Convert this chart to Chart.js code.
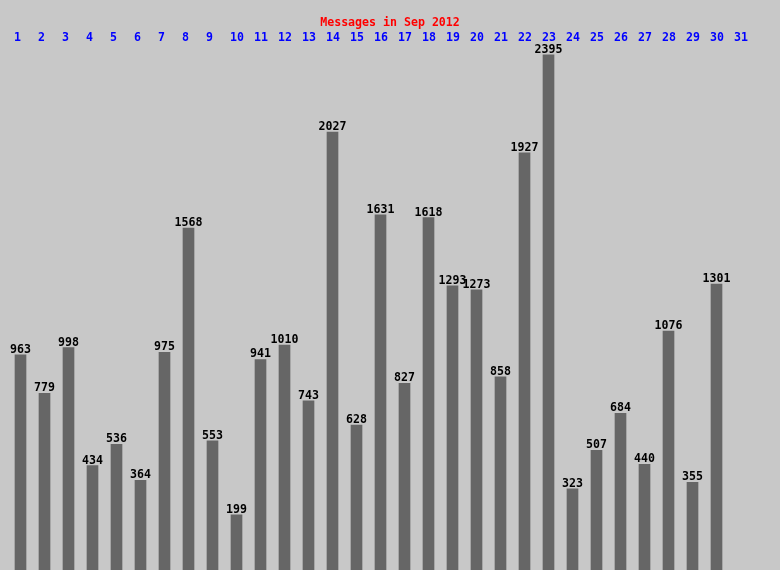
<!DOCTYPE html>
<html>
<head>
<meta charset="utf-8">
<title>Messages in Sep 2012</title>
<script src="https://cdn.jsdelivr.net/npm/chart.js@4/dist/chart.umd.min.js"></script>
<style>
  html, body { margin: 0; padding: 0; background: #c8c8c8; }
  canvas { display: block; }
</style>
</head>
<body>
<canvas id="msgChart" width="780" height="570"></canvas>
<script>
// --- Data ---
const chartTitle = "Messages in Sep 2012";
const days = ["1","2","3","4","5","6","7","8","9","10","11","12","13","14","15","16",
  "17","18","19","20","21","22","23","24","25","26","27","28","29","30","31"];
const messages = [963, 779, 998, 434, 536, 364, 975, 1568, 553, 199, 941, 1010, 743, 2027, 628,
  1631, 827, 1618, 1293, 1273, 858, 1927, 2395, 323, 507, 684, 440, 1076, 355, 1301, null];

const FONT = "bold 11.6px 'DejaVu Sans Mono', monospace";

// draws title, day numbers on top and the value over each bar
const labelsPlugin = {
  id: "labels",
  beforeDraw(chart) {
    const ctx = chart.ctx;
    ctx.save();
    ctx.fillStyle = "#c8c8c8";
    ctx.fillRect(0, 0, chart.width, chart.height);
    ctx.restore();
  },
  afterDatasetsDraw(chart) {
    const ctx = chart.ctx;
    const meta = chart.getDatasetMeta(0);
    const xScale = chart.scales.x;
    ctx.save();
    ctx.font = FONT;

    ctx.fillStyle = "#ff0000";
    ctx.textAlign = "center";
    ctx.textBaseline = "alphabetic";
    ctx.fillText(chartTitle, 390, 26);

    ctx.fillStyle = "#0000ff";
    ctx.textAlign = "left";
    days.forEach((d, i) => {
      ctx.fillText(d, xScale.getPixelForValue(i) - 6.5, 41);
    });

    ctx.fillStyle = "#000000";
    ctx.textAlign = "center";
    meta.data.forEach((bar, i) => {
      if (messages[i] == null) return;
      ctx.fillText(String(messages[i]), bar.x, bar.y - 2);
    });
    ctx.restore();
  },
};

new Chart(document.getElementById("msgChart"), {
  type: "bar",
  data: {
    labels: days,
    datasets: [{
      data: messages,
      base: -64,
      backgroundColor: "#666666",
      borderWidth: 0,
      barThickness: 11,
    }],
  },
  options: {
    responsive: false,
    animation: false,
    layout: { padding: { left: 8.5, right: 27.5, top: 0, bottom: 0 } },
    plugins: { legend: { display: false }, tooltip: { enabled: false }, title: { display: false } },
    scales: {
      x: { display: false, offset: true, grid: { display: false } },
      y: { display: false, min: -64, max: 2657, grid: { display: false } },
    },
  },
  plugins: [labelsPlugin],
});
</script>
</body>
</html>
